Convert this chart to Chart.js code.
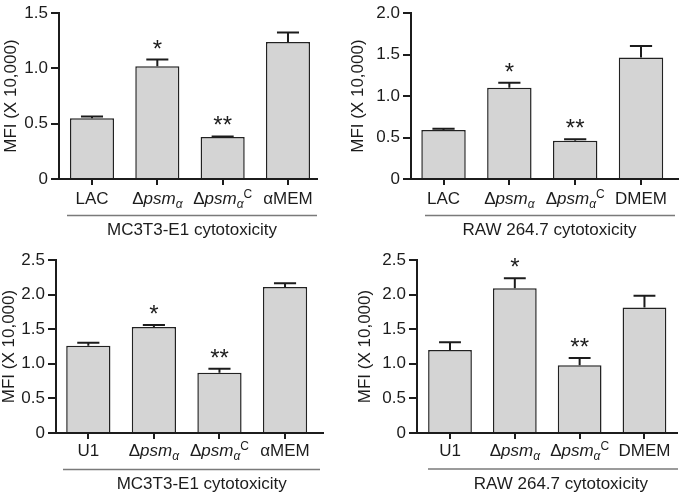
<!DOCTYPE html>
<html>
<head>
<meta charset="utf-8">
<script src="https://cdn.jsdelivr.net/npm/chart.js@4/dist/chart.umd.min.js"></script>
<style>
  body { margin: 0; background: #fff; }
  #wrap { position: relative; width: 680px; height: 495px; }
  canvas { position: absolute; }
</style>
</head>
<body>
<div id="wrap">
  <canvas id="c1" width="340" height="245" style="left:0;top:0"></canvas>
  <canvas id="c2" width="340" height="245" style="left:340px;top:0"></canvas>
  <canvas id="c3" width="340" height="250" style="left:0;top:245px"></canvas>
  <canvas id="c4" width="340" height="250" style="left:340px;top:245px"></canvas>
</div>
<script>
// categories
const mcTopLabels = ["LAC", "Δpsmα", "ΔpsmαC", "αMEM"];
const rawTopLabels = ["LAC", "Δpsmα", "ΔpsmαC", "DMEM"];
const mcBottomLabels = ["U1", "Δpsmα", "ΔpsmαC", "αMEM"];
const rawBottomLabels = ["U1", "Δpsmα", "ΔpsmαC", "DMEM"];

// MFI (x 10,000), mean and upper error
const mcTopValues = [0.55, 1.02, 0.38, 1.24];
const mcTopErrors = [0.015, 0.06, 0.005, 0.085];
const rawTopValues = [0.59, 1.10, 0.46, 1.465];
const rawTopErrors = [0.015, 0.06, 0.02, 0.14];
const mcBottomValues = [1.26, 1.53, 0.87, 2.11];
const mcBottomErrors = [0.045, 0.03, 0.06, 0.055];
const rawBottomValues = [1.20, 2.09, 0.98, 1.815];
const rawBottomErrors = [0.11, 0.145, 0.105, 0.17];

const significance = ["", "*", "**", ""];

// y tick labels
const yTicksMcTop = [0, 0.5, 1.0, 1.5];
const yTicksRawTop = [0, 0.5, 1.0, 1.5, 2.0];
const yTicksBottom = [0, 0.5, 1.0, 1.5, 2.0, 2.5];

const yTitle = "MFI (X 10,000)";
const mcTitle = "MC3T3-E1 cytotoxicity";
const rawTitle = "RAW 264.7 cytotoxicity";

const FONT = "'Liberation Sans', Arial, sans-serif";
const INK = "#1c1c1c";

// draws Δpsmα with italic / subscript / superscript parts
function drawLabel(ctx, text, cx, baseY) {
    let parts;
    if (text.startsWith("Δpsmα")) {
        parts = [
            { t: "Δ", f: "17px " + FONT, dy: 0 },
            { t: "psm", f: "italic 17px " + FONT, dy: 0 },
            { t: "α", f: "italic 12px " + FONT, dy: 4 }
        ];
        const rest = text.slice(5);
        if (rest) {
            parts.push({ t: rest, f: "12px " + FONT, dy: -6 });
        }
    } else {
        parts = [{ t: text, f: "17px " + FONT, dy: 0 }];
    }
    let w = 0;
    parts.forEach(p => {
        ctx.font = p.f;
        p.w = ctx.measureText(p.t).width;
        w += p.w;
    });
    let x = cx - w / 2;
    ctx.textAlign = "left";
    ctx.textBaseline = "alphabetic";
    parts.forEach(p => {
        ctx.font = p.f;
        ctx.fillText(p.t, x, baseY + p.dy);
        x += p.w;
    });
}

function extras(p) {
    return {
        id: "extras" + p.id,
        afterDatasetsDraw(chart) {
            const ctx = chart.ctx;
            const y = chart.scales.y;
            const bars = chart.getDatasetMeta(0).data;
            ctx.save();
            ctx.strokeStyle = INK;
            ctx.fillStyle = INK;
            ctx.lineWidth = 2;
            bars.forEach((bar, i) => {
                const top = y.getPixelForValue(p.values[i] + p.errors[i]);
                const half = bar.width / 4;
                ctx.beginPath();
                ctx.moveTo(bar.x, bar.y);
                ctx.lineTo(bar.x, top);
                ctx.moveTo(bar.x - half, top);
                ctx.lineTo(bar.x + half, top);
                ctx.stroke();
                if (p.stars[i]) {
                    ctx.font = "24px " + FONT;
                    ctx.textAlign = "center";
                    ctx.textBaseline = "alphabetic";
                    ctx.fillText(p.stars[i], bar.x, top - 3);
                }
            });
            ctx.restore();
        },
        afterDraw(chart) {
            const ctx = chart.ctx;
            const area = chart.chartArea;
            const bars = chart.getDatasetMeta(0).data;
            ctx.save();
            ctx.fillStyle = INK;
            bars.forEach((bar, i) => {
                drawLabel(ctx, p.labels[i], bar.x, area.bottom + p.labelDy);
            });
            // grouping line + title
            ctx.strokeStyle = "#7a7a7a";
            ctx.lineWidth = 1.5;
            ctx.beginPath();
            ctx.moveTo(p.lineLeft, area.bottom + p.lineDy);
            ctx.lineTo(p.lineRight, area.bottom + p.lineDy);
            ctx.stroke();
            ctx.font = "17px " + FONT;
            ctx.textAlign = "center";
            ctx.textBaseline = "alphabetic";
            ctx.fillText(p.title, p.titleX, area.bottom + p.titleDy);
            ctx.restore();
        }
    };
}

function makeChart(p) {
    const canvas = document.getElementById(p.id);
    new Chart(canvas, {
        type: "bar",
        data: {
            datasets: [{
                data: p.values.map((v, i) => ({ x: i, y: v })),
                backgroundColor: "#d4d4d4",
                borderColor: "#222",
                borderWidth: 1.5,
                barPercentage: 0.675,
                categoryPercentage: 1
            }]
        },
        options: {
            responsive: false,
            animation: false,
            events: [],
            layout: {
                autoPadding: false,
                padding: {
                    left: 0,
                    top: p.top,
                    right: canvas.width - p.right,
                    bottom: canvas.height - p.bottom - 10
                }
            },
            plugins: {
                legend: { display: false },
                tooltip: { enabled: false }
            },
            scales: {
                x: {
                    type: "linear",
                    offset: false,
                    min: p.xMin,
                    max: p.xMax,
                    afterBuildTicks: s => {
                        s.ticks = p.labels.map((l, i) => ({ value: i }));
                    },
                    afterFit: s => { s.height = 10; },
                    ticks: { display: false },
                    grid: {
                        offset: false,
                        drawOnChartArea: false,
                        drawTicks: true,
                        tickLength: 6,
                        lineWidth: 2,
                        color: INK
                    },
                    border: { display: true, width: 2, color: INK }
                },
                y: {
                    min: 0,
                    max: p.yTicks[p.yTicks.length - 1],
                    afterBuildTicks: s => {
                        s.ticks = p.yTicks.map(v => ({ value: v }));
                    },
                    afterFit: s => { s.width = p.left; },
                    ticks: {
                        callback: v => v === 0 ? "0" : v.toFixed(1),
                        font: { family: FONT, size: 17 },
                        color: INK,
                        padding: 3
                    },
                    grid: {
                        drawOnChartArea: false,
                        drawTicks: true,
                        tickLength: 8,
                        lineWidth: 2,
                        color: INK
                    },
                    border: { display: true, width: 2, color: INK },
                    title: {
                        display: true,
                        text: yTitle,
                        font: { family: FONT, size: 17, lineHeight: 1 },
                        color: INK,
                        padding: { top: p.titlePad, bottom: 0 }
                    }
                }
            }
        },
        plugins: [extras(p)]
    });
}

makeChart({
    id: "c1", labels: mcTopLabels, values: mcTopValues, errors: mcTopErrors,
    stars: significance, yTicks: yTicksMcTop, title: mcTitle,
    left: 59, top: 7, right: 317, bottom: 179, xMin: -0.505, xMax: 3.444,
    titlePad: 3, labelDy: 24.5, lineDy: 36.5, titleDy: 56, lineLeft: 67, lineRight: 317, titleX: 192
});
makeChart({
    id: "c2", labels: rawTopLabels, values: rawTopValues, errors: rawTopErrors,
    stars: significance, yTicks: yTicksRawTop, title: rawTitle,
    left: 71, top: 7, right: 338, bottom: 179, xMin: -0.494, xMax: 3.562,
    titlePad: 10, labelDy: 24.5, lineDy: 36.5, titleDy: 56, lineLeft: 85, lineRight: 335, titleX: 209.5
});
makeChart({
    id: "c3", labels: mcBottomLabels, values: mcBottomValues, errors: mcBottomErrors,
    stars: significance, yTicks: yTicksBottom, title: mcTitle,
    left: 56, top: 15, right: 323, bottom: 188, xMin: -0.493, xMax: 3.579,
    titlePad: 1, labelDy: 22.5, lineDy: 36.5, titleDy: 55.5, lineLeft: 63, lineRight: 320, titleX: 201.7
});
makeChart({
    id: "c4", labels: rawBottomLabels, values: rawBottomValues, errors: rawBottomErrors,
    stars: significance, yTicks: yTicksBottom, title: rawTitle,
    left: 77, top: 15, right: 337, bottom: 188, xMin: -0.509, xMax: 3.502,
    titlePad: 17, labelDy: 22.5, lineDy: 36, titleDy: 55.5, lineLeft: 88, lineRight: 338, titleX: 220.8
});
</script>
</body>
</html>
